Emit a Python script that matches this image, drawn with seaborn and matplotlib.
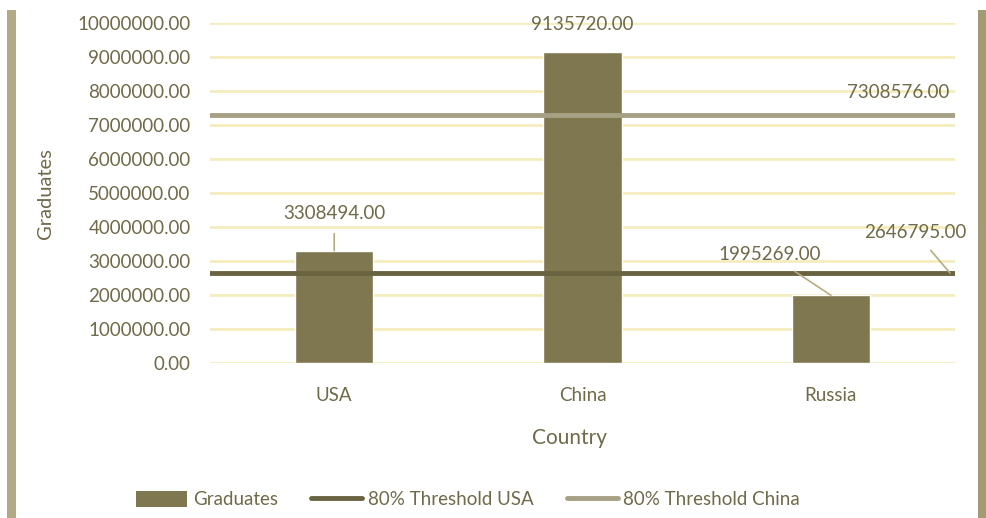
import numpy as np
import pandas as pd
import matplotlib
matplotlib.use("Agg")
import matplotlib.pyplot as plt
import seaborn as sns
from matplotlib.patches import Rectangle, Patch
from matplotlib.lines import Line2D

countries = ["USA", "China", "Russia"]
graduates = [3308494.00, 9135720.00, 1995269.00]
threshold_usa = 2646795.00
threshold_china = 7308576.00
y_ticks = np.arange(0, 10000001, 1000000)

BAR = "#7f774f"
LINE_USA = "#6a6341"
LINE_CHINA = "#a6a184"
GRID = "#f5ecbd"
TEXT = "#6f6a48"
BORDER = "#b2aa85"

sns.set_theme(style="white")
plt.rcParams["font.family"] = ["Lato", "DejaVu Sans"]

df = pd.DataFrame({"Country": countries, "Graduates": graduates})

fig = plt.figure(figsize=(9.86, 5.18), dpi=100)
ax = fig.add_axes([0.213, 0.299, 0.7556, 0.6565])

for t in y_ticks:
    ax.axhline(t, color=GRID, lw=2, zorder=0)

sns.barplot(data=df, x="Country", y="Graduates", color=BAR, width=0.315,
            saturation=1, ax=ax, zorder=2)

ax.axhline(threshold_usa, color=LINE_USA, lw=3.5, zorder=3)
ax.axhline(threshold_china, color=LINE_CHINA, lw=3.5, zorder=3)

ax.set_ylim(0, 10000000)
ax.set_xlim(-0.5, 2.5)
ax.set_yticks(y_ticks)
ax.set_yticklabels([f"{v:.2f}" for v in y_ticks])
for s in ax.spines.values():
    s.set_visible(False)
ax.tick_params(axis="y", length=0, pad=14, labelsize=13.5, labelcolor=TEXT)
ax.tick_params(axis="x", length=0, pad=17, labelsize=13.5, labelcolor=TEXT)

ax.set_ylabel("Graduates", fontsize=14.5, color=TEXT)
ax.set_xlabel("Country", fontsize=15, color=TEXT)
ax.yaxis.set_label_coords(-0.209, 0.5)
ax.xaxis.set_label_coords(0.483, -0.19)

# data labels
lbl = dict(fontsize=13.5, color=TEXT, ha="center", va="center", zorder=5)
lead = dict(arrowstyle="-", color="#b5ad80", lw=1.2, shrinkA=6, shrinkB=0)
ax.annotate(f"{graduates[0]:.2f}", xy=(0, graduates[0]), xytext=(0, 4400000),
            arrowprops=lead, **lbl)
ax.annotate(f"{graduates[1]:.2f}", xy=(1, graduates[1]), xytext=(1, 9950000), **lbl)
ax.annotate(f"{graduates[2]:.2f}", xy=(2, graduates[2]), xytext=(1.755, 3180000),
            arrowprops=lead, **lbl)
ax.annotate(f"{threshold_usa:.2f}", xy=(2.48, threshold_usa), xytext=(2.34, 3850000),
            arrowprops=lead, **lbl)
ax.annotate(f"{threshold_china:.2f}", xy=(2.45, threshold_china), xytext=(2.27, 7970000), **lbl)

handles = [
    Patch(facecolor=BAR, edgecolor="none", label="Graduates"),
    Line2D([0], [0], color=LINE_USA, lw=3.5, label="80% Threshold USA"),
    Line2D([0], [0], color=LINE_CHINA, lw=3.5, label="80% Threshold China"),
]
leg = fig.legend(handles=handles, loc="center", bbox_to_anchor=(0.475, 0.035),
                 ncol=3, frameon=False, fontsize=13.5, handlelength=2.7,
                 handleheight=0.9, handletextpad=0.3, columnspacing=1.8)
for t in leg.get_texts():
    t.set_color(TEXT)

# frame strips on left and right
fig.patches.append(Rectangle((7 / 986, 0), 9 / 986, 508 / 518, transform=fig.transFigure,
                             facecolor=BORDER, edgecolor="none", zorder=0))
fig.patches.append(Rectangle((978 / 986, 0), 8 / 986, 508 / 518, transform=fig.transFigure,
                             facecolor="#a39b74", edgecolor="none", zorder=0))

fig.savefig("out.png", dpi=100, facecolor="white")
